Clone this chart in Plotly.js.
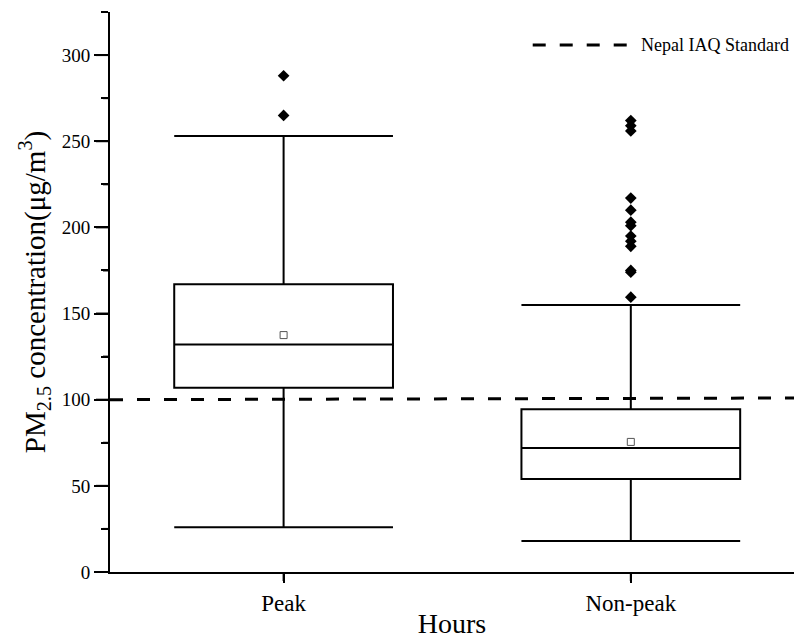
<!DOCTYPE html>
<html>
<head>
<meta charset="utf-8">
<script src="https://cdn.plot.ly/plotly-3.0.1.min.js"></script>
<style>html,body{margin:0;padding:0;background:#fff;}</style>
</head>
<body>
<div id="chart" style="width:794px;height:639px;"></div>
<script>
const categories = ["Peak", "Non-peak"];
const positions = [0, 1];
const lowerWhisker = [26, 18];
const q1 = [107, 54];
const median = [132, 72];
const q3 = [167, 94.5];
const upperWhisker = [253, 155];
const means = [137.5, 75.5];
const peakOutliers = [265, 288];
const nonPeakOutliers = [262, 259, 256, 217, 210, 203, 201, 195, 192, 189, 175, 174, 159.5];
const standardX = [-0.5, 1.5];
const standardValue = [100, 101];
const standardLabel = "Nepal IAQ Standard";
const yMajorTicks = [0, 50, 100, 150, 200, 250, 300];
const yMinorTicks = [25, 75, 125, 175, 225, 275, 325];

const font = "Liberation Serif, Times New Roman, serif";
const W = 794, H = 639, ML = 110, MR = 0, MT = 12, MB = 67;
const plotW = W - ML - MR, plotH = H - MT - MB;

const traces = [
  {
    type: "box",
    x: positions,
    q1: q1, median: median, q3: q3,
    lowerfence: lowerWhisker, upperfence: upperWhisker,
    width: 0.63,
    whiskerwidth: 1,
    fillcolor: "rgba(0,0,0,0)",
    line: {color: "#000", width: 2},
    boxpoints: false,
    showlegend: false,
    hoverinfo: "skip"
  },
  {
    type: "scatter", mode: "markers",
    x: positions, y: means,
    marker: {symbol: "square-open", size: 7, color: "#555", line: {width: 1}},
    showlegend: false, hoverinfo: "skip"
  },
  {
    type: "scatter", mode: "markers",
    x: peakOutliers.map(() => positions[0]).concat(nonPeakOutliers.map(() => positions[1])),
    y: peakOutliers.concat(nonPeakOutliers),
    marker: {symbol: "diamond", size: 9, color: "#000"},
    showlegend: false, hoverinfo: "skip"
  },
  {
    type: "scatter", mode: "lines",
    x: standardX, y: standardValue,
    line: {color: "#000", width: 3, dash: "13px,14px"},
    showlegend: false, hoverinfo: "skip"
  }
];

// axis tick marks (drawn as shapes too, so they always show)
const tickShapes = []
  .concat(yMajorTicks.map(v => ({type: "line", xref: "paper", yref: "y", x0: -14 / plotW, x1: 0, y0: v, y1: v, line: {color: "#000", width: 2}})))
  .concat(yMinorTicks.map(v => ({type: "line", xref: "paper", yref: "y", x0: -7 / plotW, x1: 0, y0: v, y1: v, line: {color: "#000", width: 2}})))
  .concat(positions.map(p => ({type: "line", xref: "x", yref: "paper", x0: p, x1: p, y0: -9 / plotH, y1: 0, line: {color: "#000", width: 2}})));

const layout = {
  width: W, height: H,
  margin: {l: ML, r: MR, t: MT, b: MB},
  paper_bgcolor: "#fff", plot_bgcolor: "#fff",
  font: {family: font, color: "#000"},
  showlegend: false,
  xaxis: {
    range: [-0.5, 1.47],
    tickmode: "array", tickvals: positions, ticktext: categories,
    showline: true, linecolor: "#000", linewidth: 2,
    ticks: "outside", ticklen: 9, tickwidth: 2, tickcolor: "#000",
    showgrid: false, zeroline: false,
    tickfont: {family: font, size: 23, color: "#000"},
    title: {text: "Hours", font: {family: font, size: 28, color: "#000"}, standoff: 2}
  },
  yaxis: {
    range: [0, 325],
    tickmode: "array", tickvals: yMajorTicks,
    showline: true, linecolor: "#000", linewidth: 2,
    ticks: "outside", ticklen: 14, tickwidth: 2, tickcolor: "#000",
    minor: {tickvals: yMinorTicks, ticks: "outside", ticklen: 7, tickwidth: 2, tickcolor: "#000", showgrid: false},
    showgrid: false, zeroline: false,
    tickfont: {family: font, size: 19, color: "#000"},
    title: {text: "PM<sub>2.5</sub> concentration(μg/m<sup>3</sup>)", font: {family: font, size: 29, color: "#000"}, standoff: 8}
  },
  shapes: [
    {type: "line", xref: "paper", yref: "paper", x0: 0.618, x1: 0.756, y0: 0.941, y1: 0.941,
     line: {color: "#000", width: 3, dash: "13px,14px"}}
  ].concat(tickShapes),
  annotations: [
    {xref: "paper", yref: "paper", x: 0.774, y: 0.941, xanchor: "left", yanchor: "middle",
     text: standardLabel, showarrow: false, font: {family: font, size: 18, color: "#000"}}
  ]
};

Plotly.newPlot("chart", traces, layout, {displayModeBar: false, staticPlot: true});
</script>
</body>
</html>
